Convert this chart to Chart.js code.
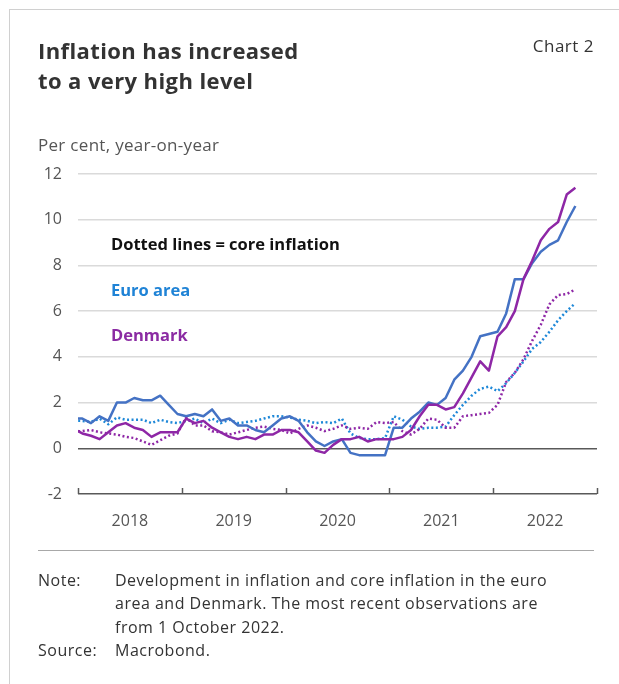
<!DOCTYPE html>
<html>
<head>
<meta charset="utf-8">
<script src="https://cdn.jsdelivr.net/npm/chart.js@4.4.0/dist/chart.umd.min.js"></script>
<style>
  html, body { margin: 0; padding: 0; background: #fff; }
  body { width: 619px; height: 684px; position: relative; overflow: hidden; font-family: "Open Sans", "Noto Sans", sans-serif; color: #333; }
  #frame { position: absolute; left: 9px; top: 9px; width: 620px; height: 700px; border-left: 1.5px solid #d0d0d0; border-top: 1.5px solid #d0d0d0; }
  #chart { position: absolute; left: 0; top: 0; }
  .t { position: absolute; line-height: 1; white-space: nowrap; }
  .title { font-size: 22px; font-weight: 700; color: #333; left: 38px; letter-spacing: 0.4px; }
  .key { font-size: 16.5px; font-weight: 700; left: 111px; }
  .note { font-size: 16px; color: #333; letter-spacing: 0.5px; }
  #rule { position: absolute; left: 38px; top: 550px; width: 556px; height: 0; border-top: 1px solid #a8a8a8; }
</style>
</head>
<body>
<div id="frame"></div>
<canvas id="chart" width="619" height="684"></canvas>

<div class="t title" style="top:38.8px">Inflation has increased</div>
<div class="t title" style="top:68.8px">to a very high level</div>
<div class="t" style="top:37.1px; right:25px; font-size:17px; letter-spacing:0.5px; color:#333">Chart 2</div>
<div class="t" style="top:135.6px; left:38px; font-size:17px; letter-spacing:0.3px; color:#555">Per cent, year-on-year</div>

<div class="t key" style="top:236.3px; color:#111">Dotted lines = core inflation</div>
<div class="t key" style="top:282px; color:#1f83d6">Euro area</div>
<div class="t key" style="top:326.6px; color:#8b2ba3">Denmark</div>

<div id="rule"></div>
<div class="t note" style="top:571.8px; left:38px">Note:</div>
<div class="t note" style="top:571.8px; left:115px">Development in inflation and core inflation in the euro</div>
<div class="t note" style="top:595.3px; left:115px">area and Denmark. The most recent observations are</div>
<div class="t note" style="top:618.8px; left:115px">from 1 October 2022.</div>
<div class="t note" style="top:642.3px; left:38px">Source:</div>
<div class="t note" style="top:642.3px; left:115px">Macrobond.</div>

<script>
// Monthly observations, Dec 2017 - Oct 2022 (per cent, year-on-year)
const euroArea = [1.3,
  1.3, 1.1, 1.4, 1.2, 2.0, 2.0, 2.2, 2.1, 2.1, 2.3, 1.9, 1.5,
  1.4, 1.5, 1.4, 1.7, 1.2, 1.3, 1.0, 1.0, 0.8, 0.7, 1.0, 1.3,
  1.4, 1.2, 0.7, 0.3, 0.1, 0.3, 0.4, -0.2, -0.3, -0.3, -0.3, -0.3,
  0.9, 0.9, 1.3, 1.6, 2.0, 1.9, 2.2, 3.0, 3.4, 4.0, 4.9, 5.0,
  5.1, 5.9, 7.4, 7.4, 8.1, 8.6, 8.9, 9.1, 9.9, 10.6];

const denmark = [0.85,
  0.65, 0.55, 0.4, 0.7, 1.0, 1.1, 0.9, 0.8, 0.5, 0.7, 0.7, 0.7,
  1.3, 1.1, 1.2, 0.9, 0.7, 0.5, 0.4, 0.5, 0.4, 0.6, 0.6, 0.8,
  0.8, 0.7, 0.3, -0.1, -0.2, 0.15, 0.4, 0.4, 0.5, 0.3, 0.4, 0.4,
  0.4, 0.5, 0.8, 1.4, 1.9, 1.9, 1.7, 1.8, 2.4, 3.1, 3.8, 3.4,
  4.9, 5.3, 6.0, 7.4, 8.2, 9.1, 9.6, 9.9, 11.1, 11.4];

const euroCore = [1.2,
  1.2, 1.15, 1.3, 1.05, 1.35, 1.25, 1.25, 1.25, 1.1, 1.25, 1.15, 1.1,
  1.2, 1.3, 1.1, 1.3, 1.1, 1.25, 1.1, 1.15, 1.2, 1.3, 1.4, 1.4,
  1.35, 1.25, 1.2, 1.1, 1.15, 1.1, 1.3, 0.65, 0.45, 0.4, 0.4, 0.45,
  1.4, 1.25, 0.95, 0.85, 0.9, 0.9, 0.95, 1.45, 1.9, 2.3, 2.6, 2.7,
  2.5, 2.85, 3.3, 3.8, 4.35, 4.65, 5.1, 5.6, 6.0, 6.35];

const denmarkCore = [0.75,
  0.75, 0.8, 0.7, 0.65, 0.6, 0.5, 0.45, 0.3, 0.15, 0.35, 0.55, 0.65,
  1.35, 1.0, 1.0, 0.75, 0.7, 0.6, 0.7, 0.8, 0.9, 0.95, 0.85, 0.8,
  0.65, 0.85, 1.0, 0.9, 0.75, 0.85, 1.0, 0.85, 0.9, 0.85, 1.15, 1.1,
  1.15, 0.75, 0.6, 0.85, 1.3, 1.25, 0.9, 0.9, 1.4, 1.45, 1.5, 1.55,
  1.9, 2.9, 3.3, 3.9, 4.7, 5.4, 6.3, 6.7, 6.75, 6.95];

const yearLabels = ['2018', '2019', '2020', '2021', '2022'];
const firstMonth = -1; // Dec 2017, months counted from Jan 2018

const EURO = '#4472c4';
const EURO_CORE = '#1e88d8';
const DK = '#8e27a6';

// each observation sits in the middle of its month
function toPoints(values) {
  return values.map((v, i) => ({ x: firstMonth + i + 0.5, y: v }));
}

// short tick marks at the year boundaries, pointing up from the axis
const yearTicks = {
  id: 'yearTicks',
  afterDatasetsDraw(chart) {
    const { ctx, chartArea } = chart;
    const x = chart.scales.x;
    ctx.save();
    ctx.strokeStyle = '#595959';
    ctx.lineWidth = 1.5;
    for (let i = 0; i <= yearLabels.length; i++) {
      const px = Math.round(x.getPixelForValue(i * 12)) + 0.5;
      ctx.beginPath();
      ctx.moveTo(px, chartArea.bottom);
      ctx.lineTo(px, chartArea.bottom - 6);
      ctx.stroke();
    }
    ctx.restore();
  }
};

new Chart(document.getElementById('chart'), {
  type: 'line',
  data: {
    datasets: [
      { label: 'Denmark', data: toPoints(denmark), borderColor: DK, order: 0 },
      { label: 'Euro area', data: toPoints(euroArea), borderColor: EURO, order: 1 },
      { label: 'Denmark, core', data: toPoints(denmarkCore), borderColor: DK, borderDash: [2, 2.5], order: 2 },
      { label: 'Euro area, core', data: toPoints(euroCore), borderColor: EURO_CORE, borderDash: [2, 2.5], order: 3 }
    ]
  },
  options: {
    responsive: false,
    animation: false,
    devicePixelRatio: 1,
    clip: 0,
    layout: { padding: { top: 174, right: 22, bottom: 150, left: 0 } },
    plugins: { legend: { display: false }, tooltip: { enabled: false } },
    elements: {
      point: { radius: 0 },
      line: { tension: 0, borderWidth: 2.5, borderCapStyle: 'butt', borderJoinStyle: 'round', fill: false }
    },
    scales: {
      x: {
        type: 'linear',
        min: 0,
        max: 60,
        grid: { display: false },
        border: { display: false },
        afterBuildTicks: s => { s.ticks = yearLabels.map((_, i) => ({ value: i * 12 + 6 })); },
        afterFit: s => { s.height = 40; },
        ticks: {
          autoSkip: false,
          maxRotation: 0,
          padding: 10,
          color: '#555',
          font: { family: 'Open Sans', size: 16 },
          callback: v => yearLabels[(v - 6) / 12]
        }
      },
      y: {
        min: -2,
        max: 12,
        afterFit: s => { s.width = 78; },
        border: { display: false },
        grid: {
          drawTicks: false,
          lineWidth: 1.5,
          color: c => (c.tick.value === 0 || c.tick.value === -2) ? '#595959' : '#dadada'
        },
        ticks: {
          stepSize: 2,
          padding: 16,
          color: '#555',
          font: { family: 'Open Sans', size: 16 }
        }
      }
    }
  },
  plugins: [yearTicks]
});
</script>
</body>
</html>
